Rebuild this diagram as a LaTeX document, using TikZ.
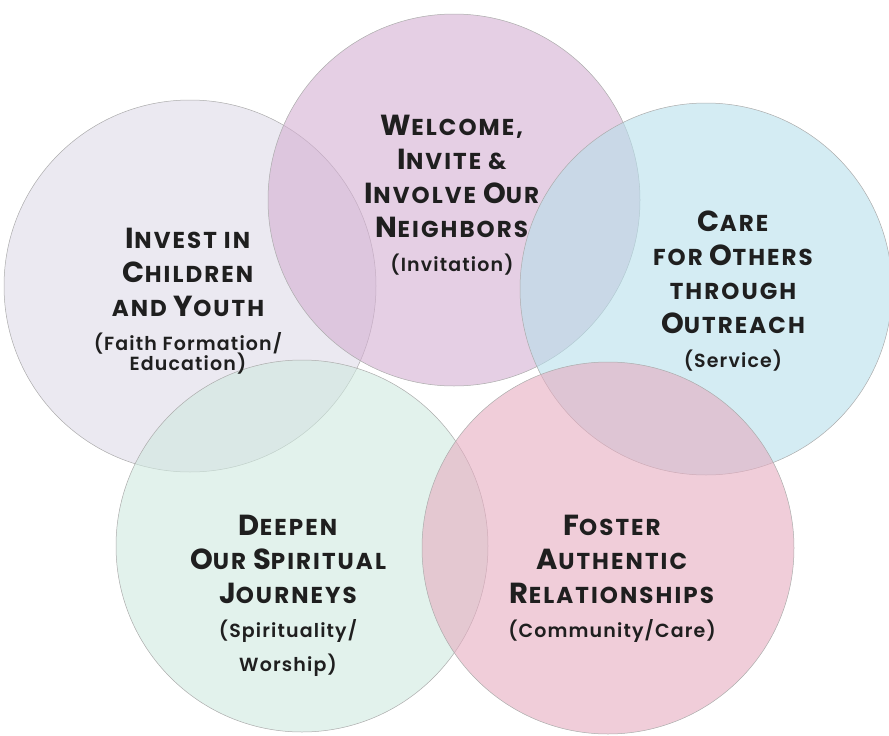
\documentclass[tikz,border=0pt]{standalone}
\usepackage{fontspec}
\setmainfont{Poppins}
\newfontfamily\subfont{Poppins SemiBold}
\usepackage{tikz}
\usetikzlibrary{positioning}

\definecolor{investcol}{RGB}{222,218,232}
\definecolor{welcomecol}{RGB}{212,175,210}
\definecolor{carecol}{RGB}{183,223,235}
\definecolor{deepencol}{RGB}{207,233,223}
\definecolor{fostercol}{RGB}{230,172,192}
\newcommand{\sct}[2]{{\fontsize{29}{34}\selectfont #1}#2}
\newcommand{\subtxt}{\subfont\mdseries\addfontfeatures{LetterSpace=6}\fontsize{19}{20}\selectfont}

\begin{document}
\begin{tikzpicture}[x=1pt,y=-1pt,
    ring/.style={circle,draw=gray!65,line width=0.5pt,fill opacity=0.6,minimum size=372pt,inner sep=0pt},
    title/.style={align=center,text=black!88,font=\bfseries\addfontfeatures{LetterSpace=9}\fontsize{23}{34}\selectfont}]
    \useasboundingbox (0,0) rectangle (889,736);
    % the five rings
    \node[ring,fill=investcol] (invest) at (190,286) {};
    \node[ring,fill=welcomecol] (welcome) at (454,200) {};
    \node[ring,fill=carecol] (care) at (706,289) {};
    \node[ring,fill=deepencol] (deepen) at (302,546) {};
    \node[ring,fill=fostercol] (foster) at (608,548) {};
    
    % texts
    \node[title] (welcometxt) at (452,195) {\sct{W}{ELCOME,}\\ \sct{I}{NVITE \&}\\ \sct{I}{NVOLVE} \sct{O}{UR}\\ \sct{N}{EIGHBORS}\\ {\subtxt (Invitation)}};
    \node[title] (investtxt) at (188,301) {\sct{I}{NVEST IN}\\ \sct{C}{HILDREN}\\ AND \sct{Y}{OUTH}\\ {\subtxt (Faith Formation/}\\[-14pt] {\subtxt Education)}};
    \node[title] (caretxt) at (733,291) {\sct{C}{ARE}\\ FOR \sct{O}{THERS}\\ THROUGH\\ \sct{O}{UTREACH}\\ {\subtxt (Service)}};
    \node[title] (deepentxt) at (288,596) {\sct{D}{EEPEN}\\ \sct{O}{UR} \sct{S}{PIRITUAL}\\ \sct{J}{OURNEYS}\\ {\subtxt (Spirituality/}\\ {\subtxt Worship)}};
    \node[title] (fostertxt) at (612,579) {\sct{F}{OSTER}\\ \sct{A}{UTHENTIC}\\ \sct{R}{ELATIONSHIPS}\\ {\subtxt (Community/Care)}};
\end{tikzpicture}
\end{document}
